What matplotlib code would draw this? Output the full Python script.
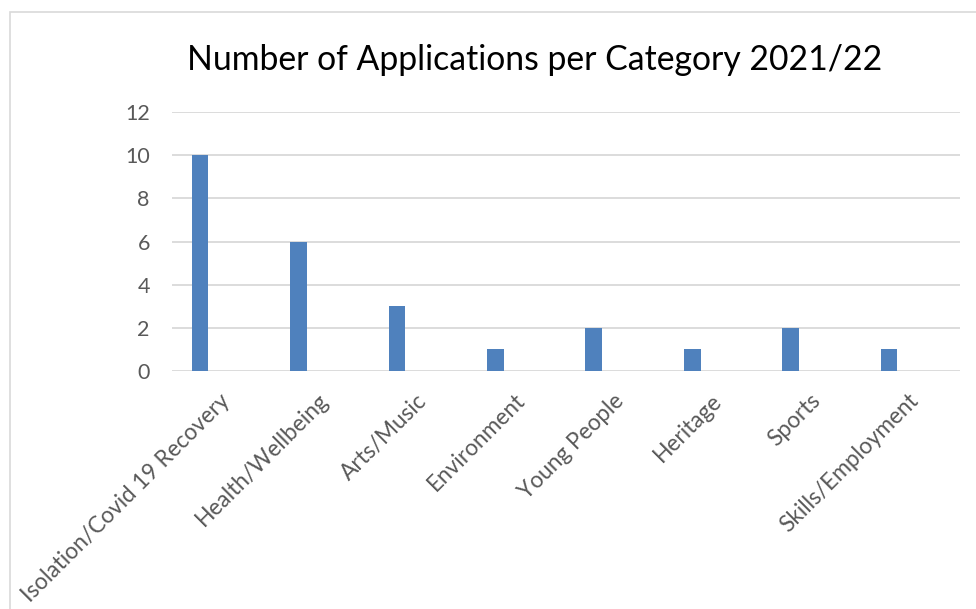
import matplotlib.pyplot as plt
import matplotlib.transforms as mtransforms
from matplotlib.patches import Rectangle

categories = ["Isolation/Covid 19 Recovery", "Health/Wellbeing", "Arts/Music", "Environment",
              "Young People", "Heritage", "Sports", "Skills/Employment"]
counts = [10, 6, 3, 1, 2, 1, 2, 1]
yticks = [0, 2, 4, 6, 8, 10, 12]

plt.rcParams['font.family'] = ['Lato', 'DejaVu Sans']

fig = plt.figure(figsize=(9.76, 6.09), dpi=100)
# chart border (runs off the right and bottom edges)
fig.patches.append(Rectangle((10/976, -0.05), 1.1, 1 - 12/609 + 0.05, transform=fig.transFigure,
                             fill=False, edgecolor='#D9D9D9', linewidth=1.2))

ax = fig.add_axes([172/976, 1 - 371/609, 788/976, 259/609])
x = range(len(categories))
ax.bar(x, counts, width=0.17, color='#4F81BD', zorder=3)
ax.set_xlim(-0.285, len(categories) - 1 + 0.72)
ax.set_ylim(0, 12)
ax.set_yticks(yticks)
ax.yaxis.grid(True, color='#D9D9D9', linewidth=1.3, zorder=0)
for s in ax.spines.values():
    s.set_visible(False)
ax.tick_params(axis='both', length=0, colors='#595959', labelsize=15.5)
ax.tick_params(axis='y', pad=16)
ax.set_xticks(list(x))
ax.set_xticklabels(categories, rotation=45, ha='right', va='top', rotation_mode='anchor', fontsize=16.3)
offset = mtransforms.ScaledTranslation(19/100, -14/100, fig.dpi_scale_trans)
for lbl in ax.get_xticklabels():
    lbl.set_transform(lbl.get_transform() + offset)

fig.text(535/976, 1 - 60/609, "Number of Applications per Category 2021/22",
         ha='center', va='center', fontsize=24.3, color='#000000')

fig.savefig("out.png", dpi=100)
